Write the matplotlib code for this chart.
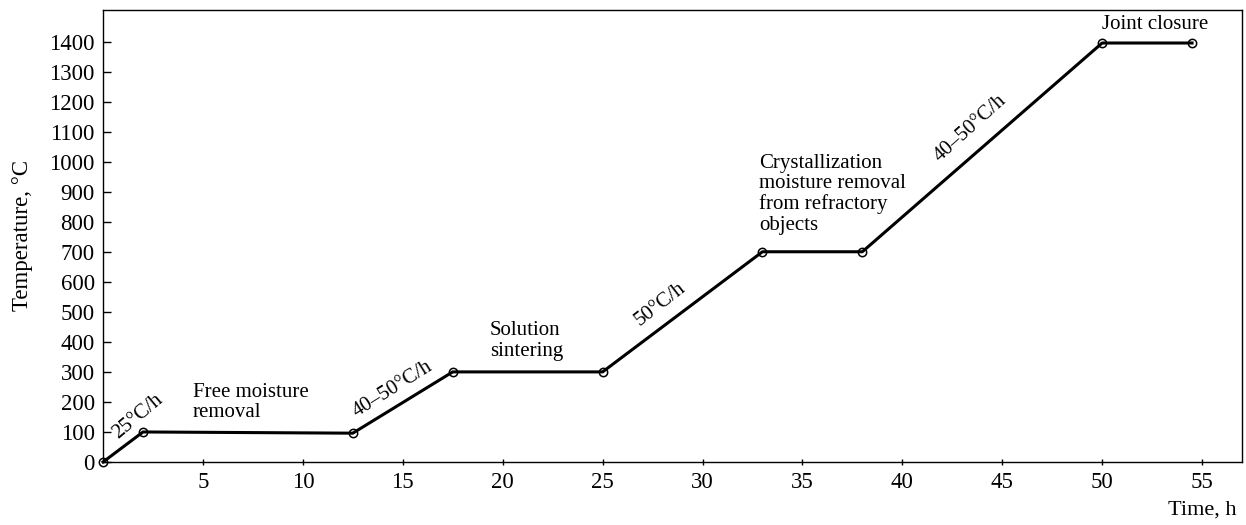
import matplotlib.pyplot as plt

# firing schedule
time_h = [0, 2, 12.5, 17.5, 25, 33, 38, 50, 54.5]
temp_c = [0, 100, 96, 300, 300, 700, 700, 1395, 1395]

x_ticks = [5, 10, 15, 20, 25, 30, 35, 40, 45, 50, 55]
y_ticks = list(range(0, 1500, 100))

stage_labels = ['Free moisture\nremoval', 'Solution\nsintering',
                'Crystallization\nmoisture removal\nfrom refractory\nobjects',
                'Joint closure']
stage_pos = [(4.5, 264), (19.35, 468), (32.85, 1027), (50.0, 1487)]

rate_labels = ['25°C/h', '40–50°C/h', '50°C/h', '40–50°C/h']
rate_pos = [(1.75, 150), (14.5, 243), (27.9, 525), (43.4, 1112)]
rate_rot = [40, 32, 38, 42]

text_font = 'Liberation Serif'

fig = plt.figure(figsize=(12.46, 5.25), dpi=100)
ax = fig.add_axes([0.0827, 0.12, 0.9141, 0.861])

ax.plot(time_h, temp_c, color='black', linewidth=2.2, marker='o', markersize=6,
        markerfacecolor='none', markeredgewidth=1.1, clip_on=False, zorder=3)

ax.set_xlim(0, 57)
ax.set_ylim(0, 1505)
ax.set_xticks(x_ticks)
ax.set_yticks(y_ticks)
ax.tick_params(axis='x', direction='inout', length=5, width=1, pad=5)
ax.tick_params(axis='y', direction='in', length=6, width=1, pad=6)
for lbl in ax.get_xticklabels() + ax.get_yticklabels():
    lbl.set_fontfamily(text_font)
    lbl.set_fontsize(16.5)
for s in ax.spines.values():
    s.set_linewidth(1)

ax.set_xlabel('Time, h', fontsize=16, family=text_font)
ax.xaxis.set_label_coords(0.995, -0.085)
ax.xaxis.label.set_horizontalalignment('right')
ax.set_ylabel('Temperature, °C', fontsize=16.5, family=text_font)
ax.yaxis.set_label_coords(-0.0615, 0.5)

for txt, (x, y) in zip(stage_labels, stage_pos):
    ax.text(x, y, txt, fontsize=15, family=text_font, ha='left', va='top',
            linespacing=1.1)

for txt, (x, y), r in zip(rate_labels, rate_pos, rate_rot):
    ax.text(x, y, txt, fontsize=15, family=text_font, ha='center', va='center',
            rotation=r, rotation_mode='anchor')

plt.savefig('out.png', dpi=100)
